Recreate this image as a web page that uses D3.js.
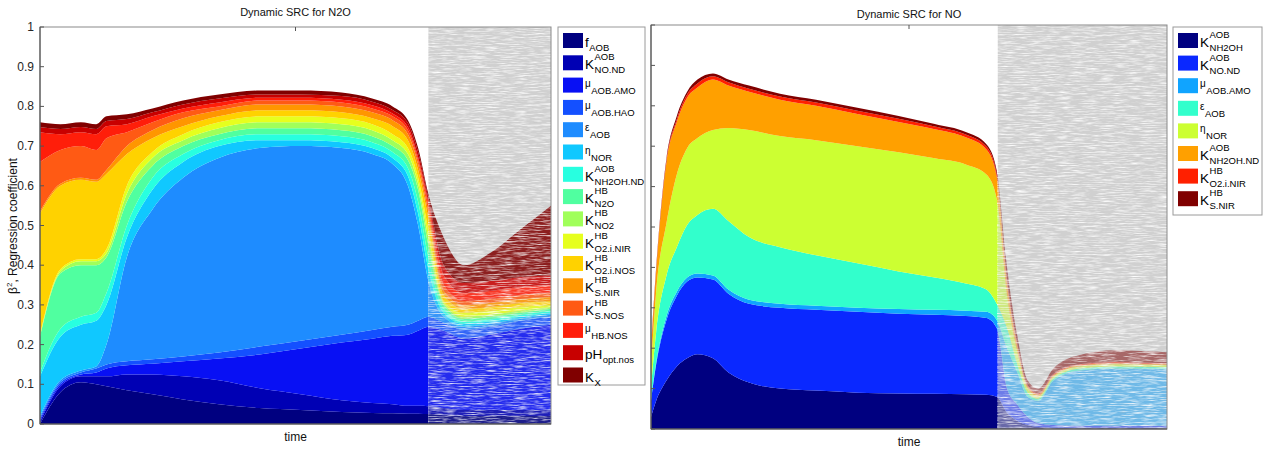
<!DOCTYPE html>
<html>
<head>
<meta charset="utf-8">
<script src="https://cdn.jsdelivr.net/npm/d3@7"></script>
<style>
body { margin: 0; background: #fff; }
svg { font-family: "Liberation Sans", Arial, sans-serif; }
</style>
</head>
<body>
<div id="chart"></div>
<script>
const W = 1263, H = 450;

// ---------- Dynamic SRC for N2O ----------
const timeN2O = [0, 4, 8, 11, 13, 17, 22, 28, 35, 43, 51, 59, 65, 69, 72, 74, 76, 79, 83, 88, 94, 100];
const fAOB     = [0, .08, .105, .10, .095, .085, .075, .062, .05, .04, .035, .03, .028, .027, .026, .026, .025, .022, .02, .02, .02, .02];
const KNOND    = [.005, .015, .015, .02, .025, .04, .05, .058, .06, .05, .04, .03, .025, .023, .02, .02, .02, .018, .015, .015, .015, .015];
const muAMO    = [.005, .005, .005, .01, .02, .023, .027, .038, .055, .085, .115, .145, .162, .172, .179, .189, .20, .195, .18, .19, .205, .215];
const muHAO    = [.005, .005, .005, .01, .01, .01, .011, .012, .015, .02, .02, .02, .022, .023, .025, .025, .025, .02, .022, .02, .02, .02];
const epsAOB   = [.005, .005, .005, .005, .05, .262, .377, .45, .49, .50, .49, .47, .443, .41, .35, .24, .09, .015, .008, .007, .005, .005];
const etaNOR   = [.10, .11, .115, .115, .10, .05, .05, .04, .03, .02, .015, .015, .015, .015, .025, .03, .03, .01, .007, .006, .005, .005];
const KNH2OHND = [.01, .02, .02, .02, .03, .03, .03, .02, .015, .015, .015, .015, .015, .015, .02, .03, .03, .01, .006, .006, .005, .005];
const KN2O     = [.09, .14, .13, .12, .09, .06, .03, .02, .015, .015, .015, .015, .015, .015, .02, .03, .03, .01, .007, .006, .005, .005];
const KNO2     = [.002, .005, .01, .01, .01, .02, .02, .015, .015, .015, .015, .015, .015, .015, .015, .015, .02, .005, .005, .005, .005, .005];
const KO2NIR   = [.003, .005, .005, .005, .01, .02, .015, .015, .015, .015, .015, .015, .015, .015, .015, .015, .02, .005, .01, .01, .01, .005];
const KO2NOS   = [.305, .21, .20, .195, .19, .08, .035, .02, .015, .015, .015, .015, .015, .02, .02, .02, .03, .015, .01, .01, .01, .01];
const KSNIR    = [.005, .005, .005, .005, .01, .02, .02, .02, .015, .015, .015, .015, .015, .015, .015, .015, .015, .01, .01, .01, .01, .01];
const KSNOS    = [.125, .085, .08, .075, .08, .035, .02, .015, .01, .01, .01, .01, .01, .01, .01, .01, .015, .015, .01, .01, .01, .01];
const muHBNOS  = [.075, .04, .035, .04, .03, .02, .015, .01, .01, .007, .007, .007, .008, .007, .008, .007, .01, .025, .02, .02, .02, .02];
const pHopt    = [.013, .013, .013, .013, .013, .013, .01, .01, .01, .008, .008, .009, .009, .009, .01, .013, .01, .025, .025, .025, .025, .025];
const KX       = [.012, .012, .012, .012, .012, .012, .01, .01, .01, .01, .01, .009, .008, .009, .007, .01, .01, .07, .045, .07, .12, .175];

const keysN2O = ["fAOB", "KNOND", "muAMO", "muHAO", "epsAOB", "etaNOR", "KNH2OHND", "KN2O",
  "KNO2", "KO2NIR", "KO2NOS", "KSNIR", "KSNOS", "muHBNOS", "pHopt", "KX"];
const valuesN2O = [fAOB, KNOND, muAMO, muHAO, epsAOB, etaNOR, KNH2OHND, KN2O,
  KNO2, KO2NIR, KO2NOS, KSNIR, KSNOS, muHBNOS, pHopt, KX];
// [main, superscript, subscript]
const labelsN2O = [["f", "", "AOB"], ["K", "AOB", "NO.ND"], ["μ", "", "AOB.AMO"], ["μ", "", "AOB.HAO"],
  ["ε", "", "AOB"], ["η", "", "NOR"], ["K", "AOB", "NH2OH.ND"], ["K", "HB", "N2O"],
  ["K", "HB", "NO2"], ["K", "HB", "O2.i.NIR"], ["K", "HB", "O2.i.NOS"], ["K", "HB", "S.NIR"],
  ["K", "HB", "S.NOS"], ["μ", "", "HB.NOS"], ["pH", "", "opt.nos"], ["K", "", "X"]];
const colorsN2O = ["#000080", "#0000b4", "#0810f4", "#1450ff", "#1e8cff", "#10c8ff", "#28ffe0", "#50ffa0",
  "#a0ff5a", "#e6ff1e", "#ffd200", "#ff9600", "#ff5a14", "#ff1e0a", "#c80000", "#800000"];

// ---------- Dynamic SRC for NO ----------
const timeNO = [0, 1, 3, 5, 7, 9, 12, 15, 19, 25, 32, 40, 48, 55, 61, 65, 67, 69, 71, 73, 75, 78, 83, 90, 100];
const noKNH2OH   = [.03, .07, .12, .155, .175, .185, .175, .14, .115, .10, .095, .09, .088, .087, .086, .085, .08, .04, .02, .01, .005, .003, .003, .003, .003];
const noKNOND    = [.04, .09, .15, .175, .19, .19, .195, .195, .195, .20, .20, .20, .197, .196, .194, .19, .17, .06, .04, .02, .01, .007, .005, .005, .005];
const noMuAMO    = [.005, .005, .01, .01, .01, .01, .01, .01, .01, .01, .01, .01, .012, .012, .013, .015, .02, .10, .08, .05, .055, .11, .137, .142, .14];
const noEpsAOB   = [.025, .075, .10, .11, .13, .145, .165, .17, .155, .14, .125, .11, .093, .08, .067, .055, .04, .05, .02, .01, .005, .005, .005, .005, .005];
const noEtaNOR   = [.05, .10, .13, .18, .19, .19, .195, .23, .265, .275, .285, .29, .295, .295, .295, .285, .26, .08, .03, .01, .005, .005, .005, .005, .005];
const noKNH2OHND = [.04, .05, .15, .13, .125, .125, .125, .105, .095, .09, .085, .08, .075, .072, .067, .062, .055, .03, .015, .005, .005, .003, .003, .003, .002];
const noKO2NIR   = [.005, .005, .005, .007, .008, .01, .008, .008, .007, .008, .008, .008, .008, .007, .007, .007, .007, .01, .005, .003, .003, .003, .002, .003, .003];
const noKSNIR    = [.005, .005, .005, .008, .007, .01, .007, .007, .008, .007, .007, .007, .007, .006, .006, .006, .008, .03, .02, .012, .012, .014, .023, .029, .027];

const keysNO = ["KNH2OH", "KNOND", "muAMO", "epsAOB", "etaNOR", "KNH2OHND", "KO2NIR", "KSNIR"];
const valuesNO = [noKNH2OH, noKNOND, noMuAMO, noEpsAOB, noEtaNOR, noKNH2OHND, noKO2NIR, noKSNIR];
const labelsNO = [["K", "AOB", "NH2OH"], ["K", "AOB", "NO.ND"], ["μ", "", "AOB.AMO"], ["ε", "", "AOB"],
  ["η", "", "NOR"], ["K", "AOB", "NH2OH.ND"], ["K", "HB", "O2.i.NIR"], ["K", "HB", "S.NIR"]];
const colorsNO = ["#000080", "#0a28ff", "#10a4ff", "#32ffcc", "#ccff32", "#ffa000", "#ff2000", "#800000"];

const yTicks = [0, 0.1, 0.2, 0.3, 0.4, 0.5, 0.6, 0.7, 0.8, 0.9, 1];

const svg = d3.select("#chart").append("svg")
  .attr("width", W)
  .attr("height", H);

const defs = svg.append("defs");

// fine horizontal streaks for the faded part of each plot
const filt = defs.append("filter").attr("id", "streaks")
  .attr("x", 0).attr("y", 0).attr("width", 1).attr("height", 1);
filt.append("feTurbulence").attr("type", "fractalNoise")
  .attr("baseFrequency", "0.07 0.9").attr("numOctaves", 3).attr("seed", 5).attr("result", "noise");
filt.append("feColorMatrix").attr("in", "noise").attr("type", "matrix")
  .attr("values", "0 0 0 0 1  0 0 0 0 1  0 0 0 0 1  2 0 0 0 -0.85").attr("result", "light");
filt.append("feColorMatrix").attr("in", "noise").attr("type", "matrix")
  .attr("values", "0 0 0 0 0.5  0 0 0 0 0.5  0 0 0 0 0.5  0 -1.5 0 0 0.5").attr("result", "dark");
const merge = filt.append("feMerge");
merge.append("feMergeNode").attr("in", "dark");
merge.append("feMergeNode").attr("in", "light");

function drawChart(o) {
  const x = d3.scaleLinear().domain([0, 100]).range([o.left, o.right]);
  const y = d3.scaleLinear().domain([0, 1]).range([o.bottom, o.top]);

  const rows = o.time.map((t, i) => {
    const r = { t: t };
    o.keys.forEach((k, j) => r[k] = o.values[j][i]);
    return r;
  });
  const series = d3.stack().keys(o.keys)(rows);

  const area = d3.area()
    .x(d => x(d.data.t))
    .y0(d => y(d[0]))
    .y1(d => y(d[1]))
    .curve(d3.curveMonotoneX);

  const xs = x(o.split);
  defs.append("clipPath").attr("id", o.id + "-w").append("rect")
    .attr("x", o.left).attr("y", o.top).attr("width", xs - o.left).attr("height", o.bottom - o.top);
  defs.append("clipPath").attr("id", o.id + "-g").append("rect")
    .attr("x", xs).attr("y", o.top).attr("width", o.right - xs).attr("height", o.bottom - o.top);

  const g = svg.append("g");

  // grey background of the faded part
  g.append("rect")
    .attr("x", xs).attr("y", o.top)
    .attr("width", o.right - xs).attr("height", o.bottom - o.top)
    .attr("fill", "#d0d0d0");

  g.append("g").attr("clip-path", `url(#${o.id}-w)`)
    .selectAll("path").data(series).enter()
    .append("path")
    .attr("d", area)
    .attr("fill", (d, i) => o.colors[i]);

  g.append("g").attr("clip-path", `url(#${o.id}-g)`)
    .attr("opacity", o.fade)
    .selectAll("path").data(series).enter()
    .append("path")
    .attr("d", area)
    .attr("fill", (d, i) => o.colors[i]);

  g.append("rect")
    .attr("x", xs).attr("y", o.top)
    .attr("width", o.right - xs).attr("height", o.bottom - o.top)
    .attr("fill", "#fff")
    .attr("filter", "url(#streaks)");

  // box + ticks
  g.append("rect")
    .attr("x", o.left).attr("y", o.top)
    .attr("width", o.right - o.left).attr("height", o.bottom - o.top)
    .attr("fill", "none").attr("stroke", "#8a8a8a").attr("stroke-width", 1);
  g.append("line")
    .attr("x1", o.left).attr("x2", o.left).attr("y1", o.top).attr("y2", o.bottom)
    .attr("stroke", "#444");
  g.append("line")
    .attr("x1", o.left).attr("x2", o.right).attr("y1", o.bottom).attr("y2", o.bottom)
    .attr("stroke", "#444");

  g.selectAll(".ytick").data(yTicks).enter()
    .append("line")
    .attr("x1", o.left).attr("x2", o.left + 4)
    .attr("y1", d => y(d)).attr("y2", d => y(d))
    .attr("stroke", "#555");
  g.append("line")
    .attr("x1", (o.left + o.right) / 2).attr("x2", (o.left + o.right) / 2)
    .attr("y1", o.top).attr("y2", o.top + 4)
    .attr("stroke", "#555");

  if (o.tickLabels) {
    g.selectAll(".ylab").data(yTicks).enter()
      .append("text")
      .attr("x", o.left - 6)
      .attr("y", d => y(d) + 4)
      .attr("text-anchor", "end")
      .attr("font-size", 12)
      .attr("fill", "#262626")
      .text(d => d3.format("~g")(d));
  }

  svg.append("text")
    .attr("x", (o.left + o.right) / 2)
    .attr("y", o.titleY)
    .attr("text-anchor", "middle")
    .attr("font-size", 11)
    .attr("fill", "#111")
    .text(o.title);

  svg.append("text")
    .attr("x", (o.left + o.right) / 2)
    .attr("y", o.bottom + 17)
    .attr("text-anchor", "middle")
    .attr("font-size", 12)
    .attr("fill", "#111")
    .text("time");

  // legend
  const lg = svg.append("g");
  lg.append("rect")
    .attr("x", o.legX).attr("y", o.legY)
    .attr("width", o.legW).attr("height", o.legH)
    .attr("fill", "#fff").attr("stroke", "#9a9a9a");

  o.labels.forEach((lab, i) => {
    const top = o.legY + 6 + i * o.legStep;
    lg.append("rect")
      .attr("x", o.legX + 5).attr("y", top)
      .attr("width", 20).attr("height", 15)
      .attr("fill", o.colors[i]);
    const greek = "μεη".includes(lab[0]);
    const main = lg.append("text")
      .attr("x", o.legX + 27)
      .attr("y", greek ? top + 9 : top + 14)
      .attr("font-size", greek ? 10 : 13.5)
      .attr("fill", "#000")
      .text(lab[0]);
    const xn = o.legX + 27 + main.node().getComputedTextLength() + 0.5;
    if (lab[1]) {
      lg.append("text")
        .attr("x", xn).attr("y", top + 5)
        .attr("font-size", 9.5).attr("fill", "#000")
        .text(lab[1]);
    }
    if (lab[2]) {
      lg.append("text")
        .attr("x", xn).attr("y", greek ? top + 16 : top + 18)
        .attr("font-size", 9.5).attr("fill", "#000")
        .text(lab[2]);
    }
  });
}

drawChart({
  id: "n2o", left: 40, right: 551, top: 27, bottom: 424, split: 76,
  time: timeN2O, keys: keysN2O, values: valuesN2O, colors: colorsN2O, labels: labelsN2O,
  fade: 0.85, tickLabels: true, title: "Dynamic SRC for N2O", titleY: 16,
  legX: 558, legY: 27, legW: 87, legH: 358, legStep: 22.3
});

drawChart({
  id: "no", left: 651, right: 1167, top: 25, bottom: 429, split: 67.2,
  time: timeNO, keys: keysNO, values: valuesNO, colors: colorsNO, labels: labelsNO,
  fade: 0.5, tickLabels: false, title: "Dynamic SRC for NO", titleY: 18,
  legX: 1173, legY: 27, legW: 89, legH: 188, legStep: 22.6
});

// y axis title of the left plot
const yl = svg.append("text")
  .attr("transform", "translate(17,226) rotate(-90)")
  .attr("text-anchor", "middle")
  .attr("font-size", 12)
  .attr("fill", "#111");
yl.append("tspan").text("β");
yl.append("tspan").attr("dy", -5).attr("font-size", 8).text("2");
yl.append("tspan").attr("dy", 5).text(", Regression coefficient");
</script>
</body>
</html>
